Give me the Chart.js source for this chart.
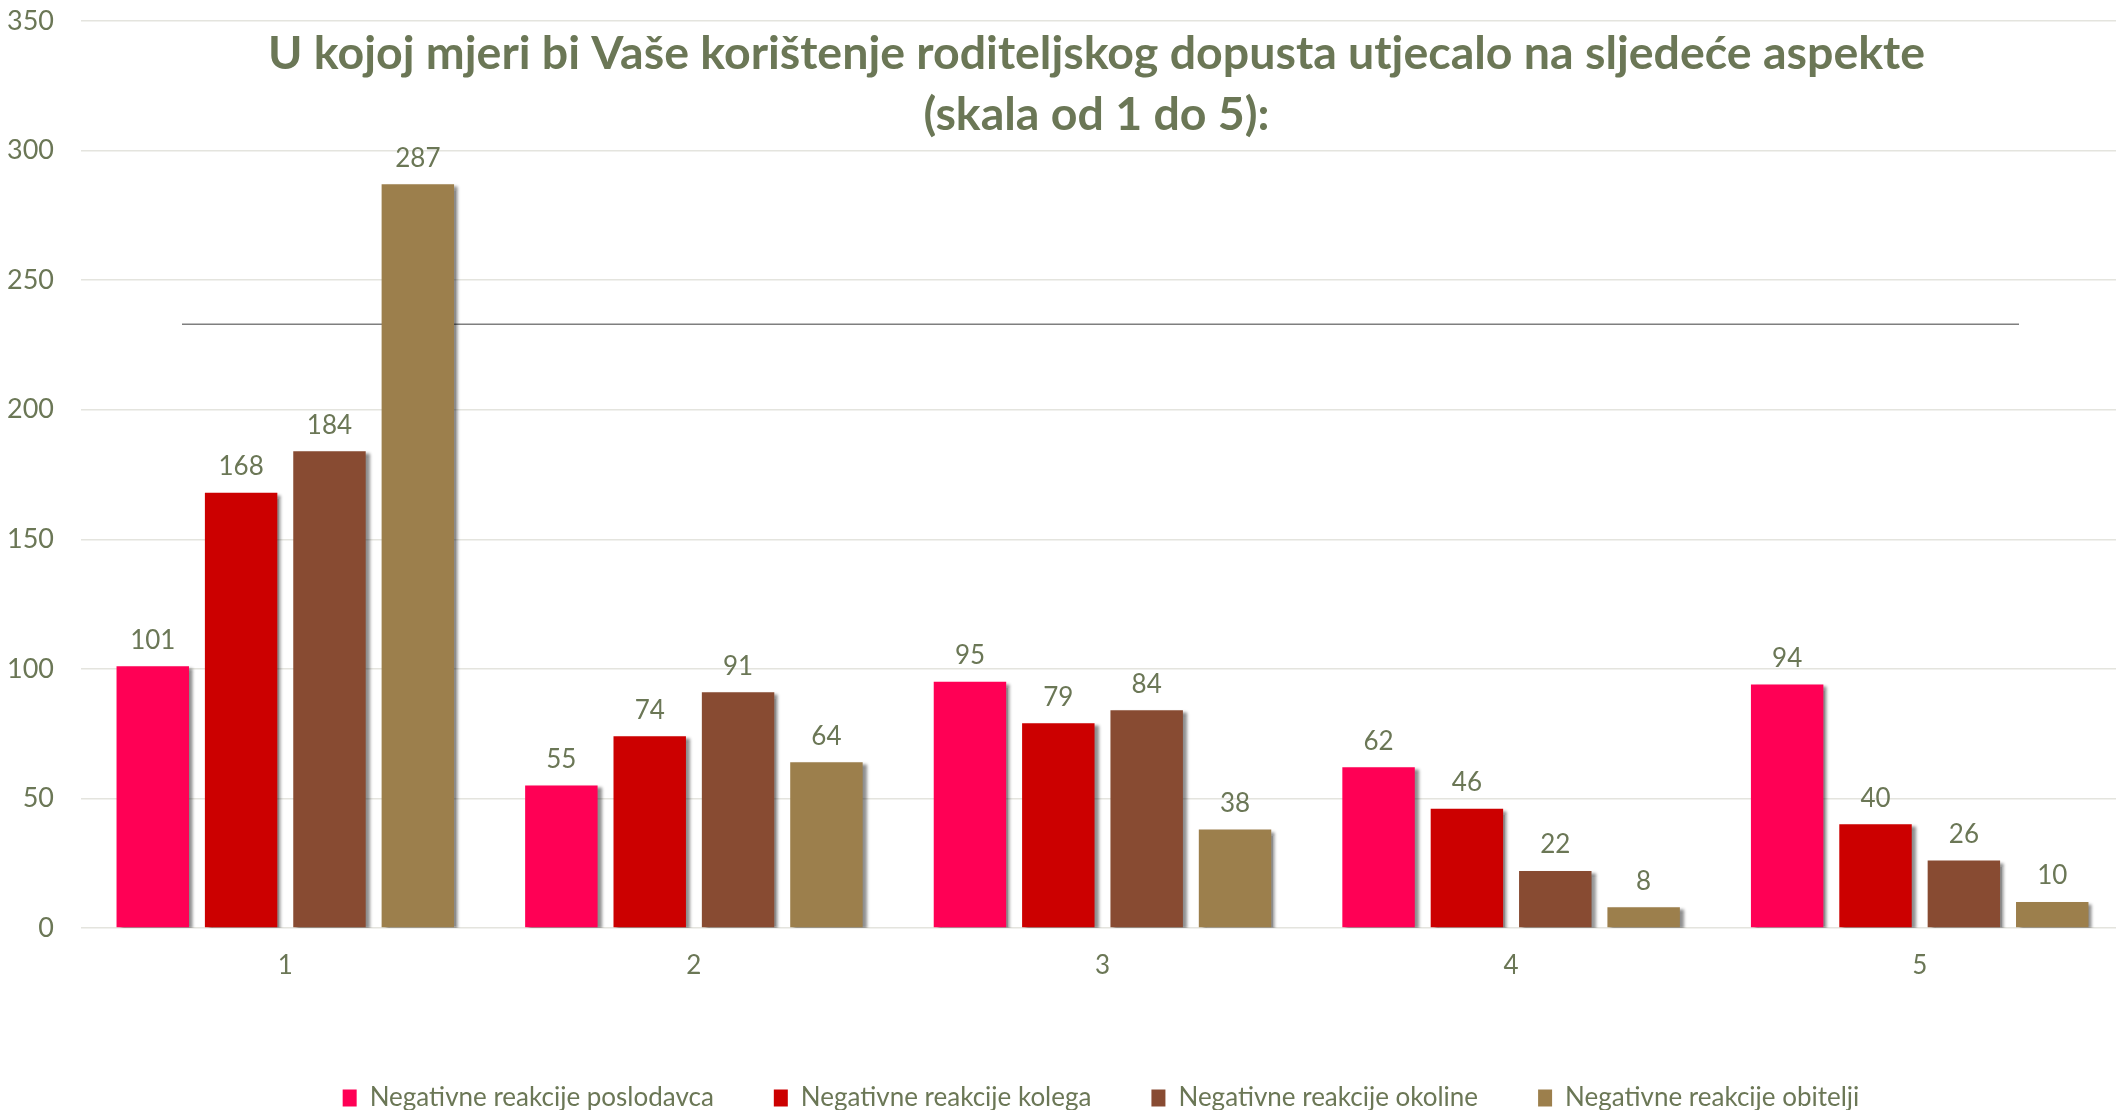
<!DOCTYPE html>
<html>
<head>
<meta charset="utf-8">
<script src="https://cdn.jsdelivr.net/npm/chart.js@4/dist/chart.umd.min.js"></script>
<style>
  html, body { margin: 0; padding: 0; background: #ffffff; overflow: hidden; }
  #wrap { width: 2124px; height: 1110px; position: relative; }
</style>
</head>
<body>
<div id="wrap"><canvas id="c"></canvas></div>
<script>
const categories = ['1', '2', '3', '4', '5'];
const seriesNames = ['Negativne reakcije poslodavca', 'Negativne reakcije kolega', 'Negativne reakcije okoline', 'Negativne reakcije obitelji'];
const poslodavca = [101, 55, 95, 62, 94];
const kolega = [168, 74, 79, 46, 40];
const okoline = [184, 91, 84, 22, 26];
const obitelji = [287, 64, 38, 8, 10];
const yTicks = [0, 50, 100, 150, 200, 250, 300, 350];
const strayLineValue = [233];
const titleLines = ['U kojoj mjeri bi Vaše korištenje roditeljskog dopusta utjecalo na sljedeće aspekte', '(skala od 1 do 5):'];

const colors = ['#FF0055', '#CC0000', '#884B32', '#9C7F4C'];
const textColor = '#6B7756';
const FONT = 'Lato, "Open Sans", sans-serif';

const backgroundPlugin = {
  id: 'strayLine',
  beforeDatasetsDraw(chart) {
    const ctx = chart.ctx;
    const y = chart.scales.y.getPixelForValue(strayLineValue[0]);
    ctx.save();
    ctx.strokeStyle = '#7f7f7f';
    ctx.lineWidth = 1.5;
    ctx.beginPath();
    ctx.moveTo(182, y);
    ctx.lineTo(2019, y);
    ctx.stroke();
    ctx.restore();
    // shadow for bars
    ctx.save();
    ctx.shadowColor = 'rgba(0,0,0,0.45)';
    ctx.shadowOffsetX = 4;
    ctx.shadowOffsetY = 2;
    ctx.shadowBlur = 3;
  },
  afterDatasetsDraw(chart) {
    const ctx = chart.ctx;
    ctx.restore();
    ctx.save();
    ctx.fillStyle = textColor;
    ctx.font = '26px ' + FONT;
    ctx.textAlign = 'center';
    ctx.textBaseline = 'middle';
    chart.data.datasets.forEach((ds, i) => {
      const meta = chart.getDatasetMeta(i);
      meta.data.forEach((bar, j) => {
        ctx.fillText(String(ds.data[j]), bar.x, bar.y - 26);
      });
    });
    ctx.restore();
  },
  afterDraw(chart) {
    const ctx = chart.ctx;
    const area = chart.chartArea;
    const cx = (area.left + area.right) / 2 - 6;
    ctx.save();
    ctx.fillStyle = textColor;
    ctx.font = 'bold 46.5px ' + FONT;
    ctx.textAlign = 'center';
    ctx.textBaseline = 'middle';
    ctx.fillText(titleLines[0], cx, 54);
    ctx.fillText(titleLines[1], cx, 115);
    ctx.restore();
  },
  afterLayout(chart) {
    const lg = chart.legend;
    if (lg) { lg.left += 39; lg.right += 39; lg.top += 2; lg.bottom += 2; }
  }
};

const datasets = [poslodavca, kolega, okoline, obitelji].map((d, i) => ({
  label: seriesNames[i],
  data: d,
  backgroundColor: colors[i],
  borderWidth: 0,
  categoryPercentage: 0.865,
  barPercentage: 0.82
}));

new Chart(document.getElementById('c'), {
  type: 'bar',
  data: { labels: categories, datasets },
  options: {
    responsive: true,
    maintainAspectRatio: false,
    animation: false,
    events: [],
    layout: { padding: { left: 0, right: 0, top: 21, bottom: -9 } },
    scales: {
      x: {
        grid: { display: false },
        border: { display: false },
        ticks: { color: textColor, font: { family: FONT, size: 26 }, padding: 14 },
        afterFit(axis) { axis.height = 95; axis.paddingLeft = 0; axis.paddingRight = 0; }
      },
      y: {
        min: 0, max: 350,
        afterBuildTicks(axis) { axis.ticks = yTicks.map(v => ({ value: v })); },
        grid: { color: '#E4E4DE', lineWidth: 1.5, drawTicks: false },
        border: { display: false },
        ticks: { color: textColor, font: { family: FONT, size: 27 }, padding: 27 },
        afterFit(axis) { axis.width = 81; axis.paddingTop = 0; axis.paddingBottom = 0; }
      }
    },
    plugins: {
      legend: {
        position: 'bottom',
        labels: {
          color: textColor,
          font: { family: FONT, size: 26 },
          boxWidth: 14,
          boxHeight: 17,
          padding: 60
        }
      },
      title: { display: false },
      tooltip: { enabled: false }
    }
  },
  plugins: [backgroundPlugin]
});
</script>
</body>
</html>
